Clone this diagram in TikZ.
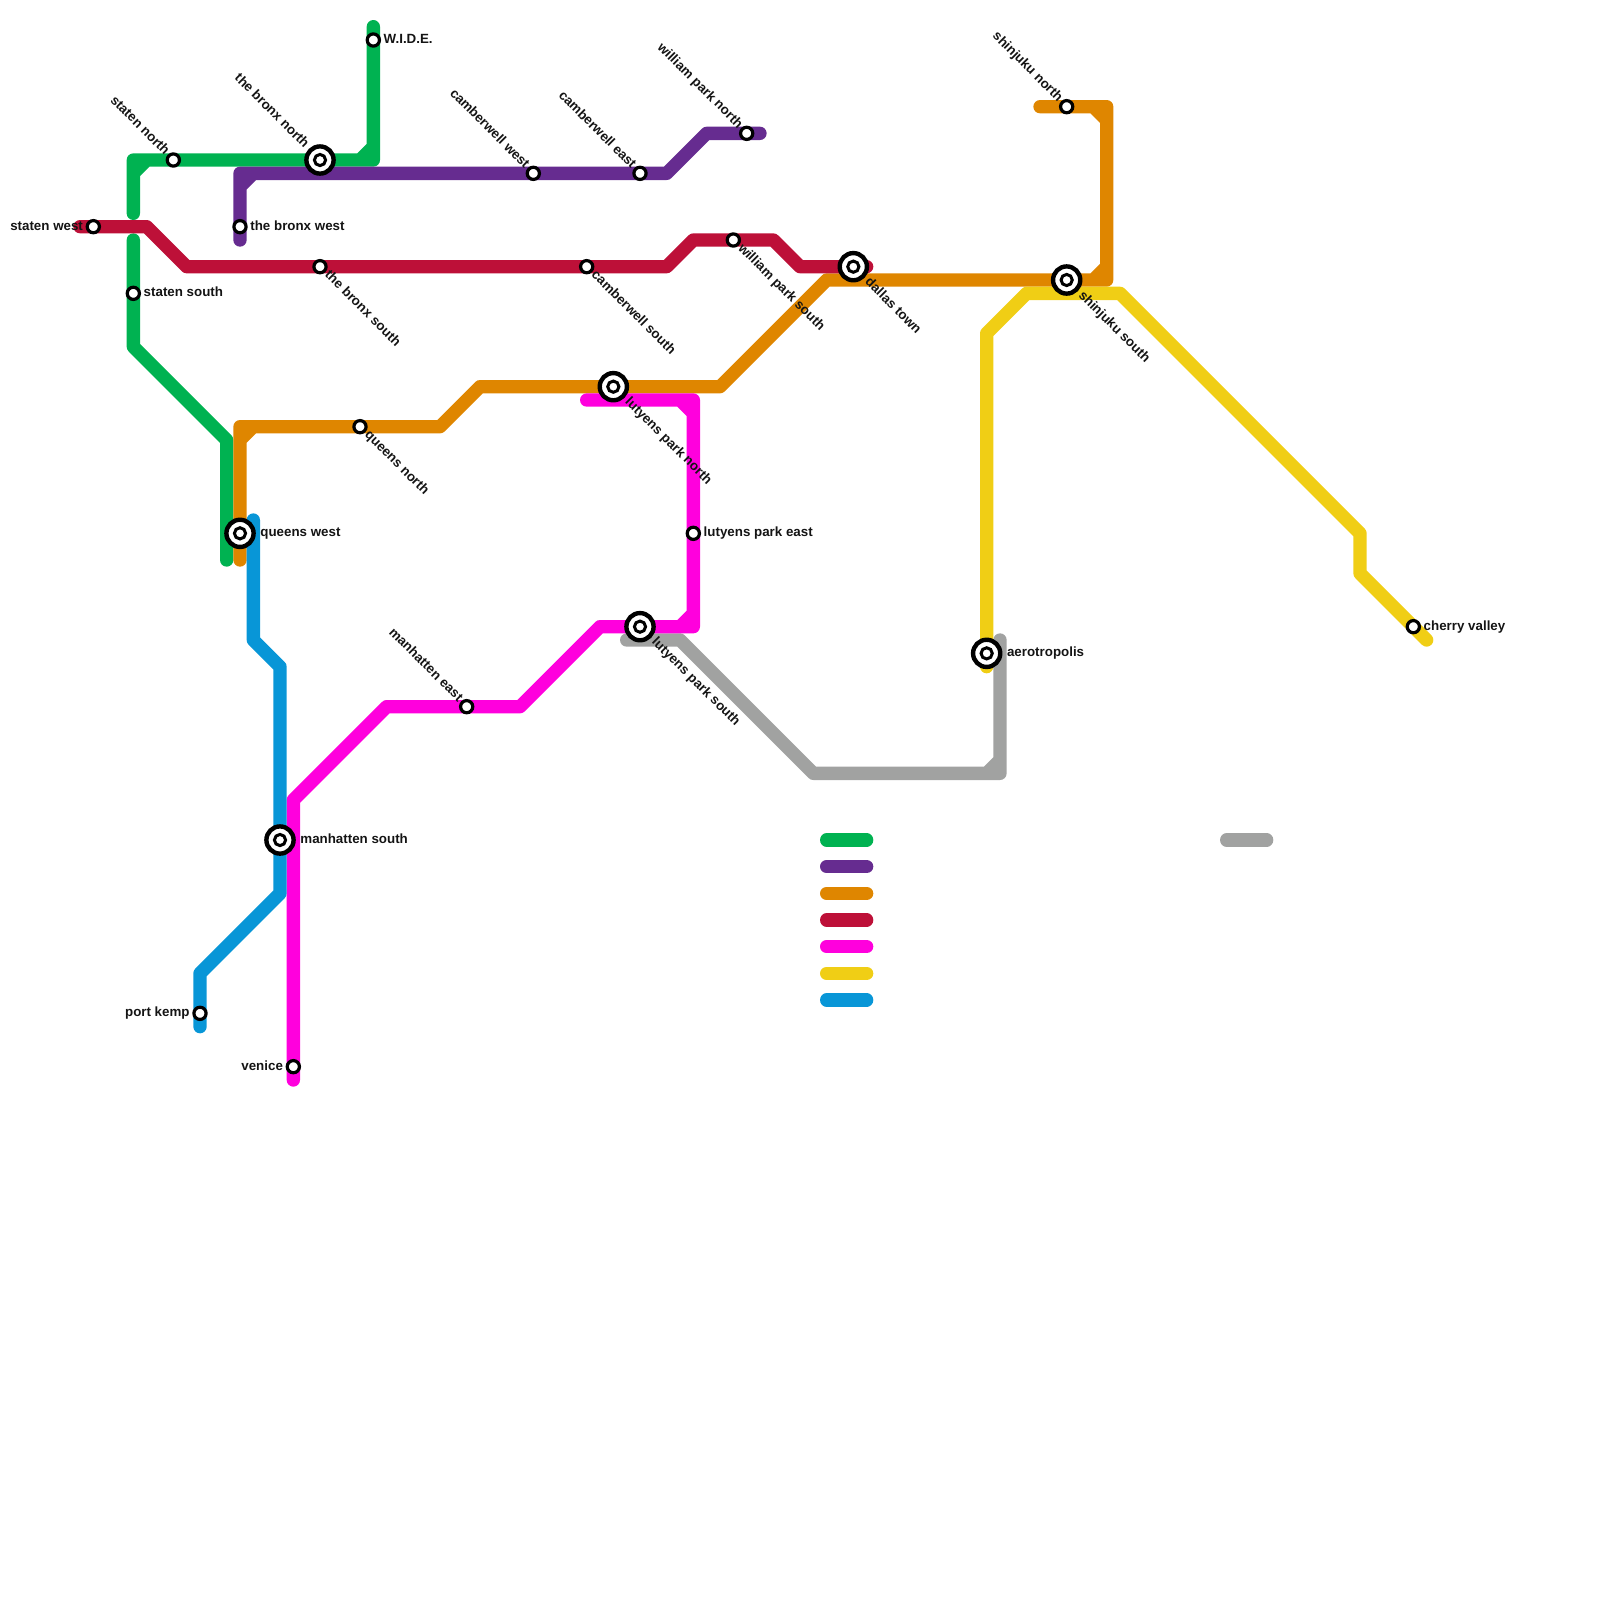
\documentclass[tikz,border=0pt]{standalone}
\usepackage{fontspec}
\setmainfont{Liberation Sans}
\definecolor{cgreen}{HTML}{00B251}
\definecolor{cpurple}{HTML}{662C90}
\definecolor{corange}{HTML}{DF8600}
\definecolor{cred}{HTML}{BD1038}
\definecolor{cmagenta}{HTML}{FF00DD}
\definecolor{cyellow}{HTML}{F0CE15}
\definecolor{cblue}{HTML}{0896D7}
\definecolor{cgray}{HTML}{A1A2A1}
\tikzset{
  metro/.style={line width=6.667pt,line cap=round,line join=round},
  smallst/.style={circle,draw=black,fill=white,line width=1.6pt,minimum size=6.1pt,inner sep=0pt,outer sep=0pt},
  bigst/.style={circle,draw=black,fill=white,line width=2.2pt,minimum size=13.6pt,inner sep=0pt,outer sep=0pt},
  bigdot/.style={circle,draw=black,fill=white,line width=1.5pt,minimum size=5.6pt,inner sep=0pt,outer sep=0pt},
  lab/.style={font=\fontsize{6.67}{8}\selectfont\bfseries,inner sep=0pt,text=black!92,text height=3.34pt,text depth=0pt},
  lr/.style={lab,anchor=west,xshift=#1},
  ll/.style={lab,anchor=east,xshift=-#1},
  ldr/.style={lab,anchor=west,rotate=-45,xshift=#1},
  lul/.style={lab,anchor=east,rotate=-45,xshift=-#1},
}
\begin{document}
\begin{tikzpicture}[x=6.6667pt,y=-6.6667pt]
\useasboundingbox (0,0) rectangle (120,120);
% green
\draw[metro,cgreen] (28,2)--(28,12)--(10,12)--(10,16) (28,11)--(27,12) (10,13)--(11,12);
\draw[metro,cgreen] (10,18)--(10,26)--(17,33)--(17,42);
% purple
\draw[metro,cpurple] (18,18)--(18,13)--(50,13)--(53,10)--(57,10) (18,14)--(19,13);
% orange
\draw[metro,corange] (18,42)--(18,32)--(33,32)--(36,29)--(54,29)--(62,21)--(83,21)--(83,8)--(78,8)
  (18,33)--(19,32) (82,21)--(83,20) (82,8)--(83,9);
% red
\draw[metro,cred] (6,17)--(11,17)--(14,20)--(50,20)--(52,18)--(58,18)--(60,20)--(65,20);
% gray
\draw[metro,cgray] (47,48)--(51,48)--(61,58)--(75,58)--(75,48) (74,58)--(75,57);
% magenta
\draw[metro,cmagenta] (44,30)--(52,30)--(52,47)--(45,47)--(39,53)--(29,53)--(22,60)--(22,81)
  (51,30)--(52,31) (52,46)--(51,47);
% yellow
\draw[metro,cyellow] (74,50)--(74,25)--(77,22)--(84,22)--(102,40)--(102,43)--(107,48);
% blue
\draw[metro,cblue] (19,39)--(19,48)--(21,50)--(21,67)--(15,73)--(15,77);
% legend
\draw[metro,cgreen] (62,63)--(65,63);
\draw[metro,cpurple] (62,65)--(65,65);
\draw[metro,corange] (62,67)--(65,67);
\draw[metro,cred] (62,69)--(65,69);
\draw[metro,cmagenta] (62,71)--(65,71);
\draw[metro,cyellow] (62,73)--(65,73);
\draw[metro,cblue] (62,75)--(65,75);
\draw[metro,cgray] (92,63)--(95,63);
% small stations
\node[smallst] (statenw) at (7,17) {};
\node[smallst] (statenn) at (13,12) {};
\node[smallst] (wide) at (28,3) {};
\node[smallst] (bronxw) at (18,17) {};
\node[smallst] (statens) at (10,22) {};
\node[smallst] (bronxs) at (24,20) {};
\node[smallst] (camw) at (40,13) {};
\node[smallst] (came) at (48,13) {};
\node[smallst] (wpn) at (56,10) {};
\node[smallst] (cams) at (44,20) {};
\node[smallst] (wps) at (55,18) {};
\node[smallst] (shinn) at (80,8) {};
\node[smallst] (queensn) at (27,32) {};
\node[smallst] (lute) at (52,40) {};
\node[smallst] (manhe) at (35,53) {};
\node[smallst] (cherry) at (106,47) {};
\node[smallst] (kemp) at (15,76) {};
\node[smallst] (venice) at (22,80) {};
% big stations
\node[bigst] (bronxn) at (24,12) {}; \node[bigdot] (bronxnd) at (24,12) {};
\node[bigst] (dallas) at (64,20) {}; \node[bigdot] (dallasd) at (64,20) {};
\node[bigst] (shins) at (80,21) {}; \node[bigdot] (shinsd) at (80,21) {};
\node[bigst] (lutn) at (46,29) {}; \node[bigdot] (lutnd) at (46,29) {};
\node[bigst] (queensw) at (18,40) {}; \node[bigdot] (queenswd) at (18,40) {};
\node[bigst] (luts) at (48,47) {}; \node[bigdot] (lutsd) at (48,47) {};
\node[bigst] (aero) at (74,49) {}; \node[bigdot] (aerod) at (74,49) {};
\node[bigst] (manhs) at (21,63) {}; \node[bigdot] (manhsd) at (21,63) {};
% labels
\node[ll=5pt] (t1) at (statenw) {staten west};
\node[lul=4.5pt] (t2) at (statenn) {staten north};
\node[lr=5pt] (t3) at (wide) {W.I.D.E.};
\node[lr=5pt] (t4) at (bronxw) {the bronx west};
\node[lr=5pt] (t5) at (statens) {staten south};
\node[ldr=4.5pt] (t6) at (bronxs) {the bronx south};
\node[lul=4.5pt] (t7) at (camw) {camberwell west};
\node[lul=4.5pt] (t8) at (came) {camberwell east};
\node[lul=4.5pt] (t9) at (wpn) {william park north};
\node[ldr=4.5pt] (t10) at (cams) {camberwell south};
\node[ldr=4.5pt] (t11) at (wps) {william park south};
\node[lul=4.5pt] (t12) at (shinn) {shinjuku north};
\node[ldr=4.5pt] (t13) at (queensn) {queens north};
\node[lr=5pt] (t14) at (lute) {lutyens park east};
\node[lul=4.5pt] (t15) at (manhe) {manhatten east};
\node[lr=5pt] (t16) at (cherry) {cherry valley};
\node[ll=5pt] (t17) at (kemp) {port kemp};
\node[ll=5pt] (t18) at (venice) {venice};
\node[lul=9.5pt] (t19) at (bronxn) {the bronx north};
\node[ldr=9.5pt] (t20) at (dallas) {dallas town};
\node[ldr=9.5pt] (t21) at (shins) {shinjuku south};
\node[ldr=9.5pt] (t22) at (lutn) {lutyens park north};
\node[lr=10pt] (t23) at (queensw) {queens west};
\node[ldr=9.5pt] (t24) at (luts) {lutyens park south};
\node[lr=10pt] (t25) at (aero) {aerotropolis};
\node[lr=10pt] (t26) at (manhs) {manhatten south};
\end{tikzpicture}
\end{document}
